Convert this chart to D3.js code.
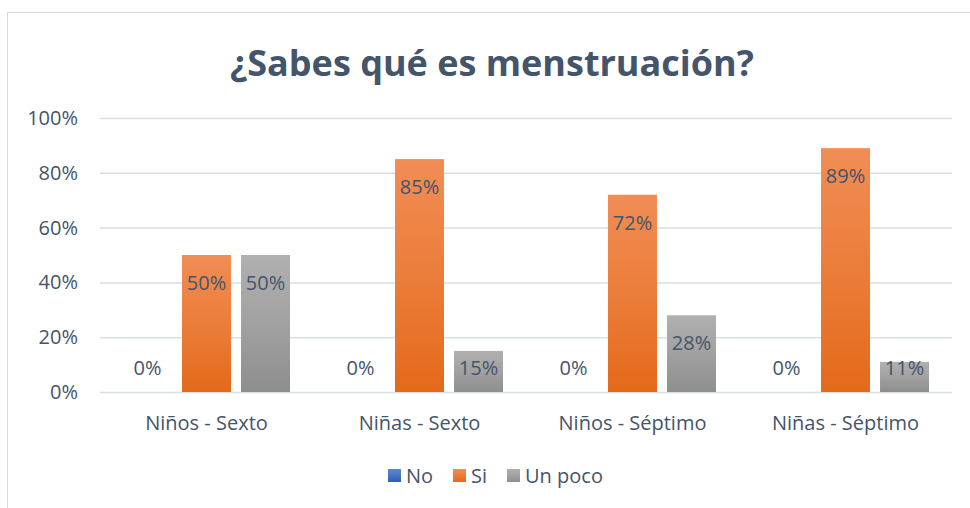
<!DOCTYPE html>
<html>
<head>
<meta charset="utf-8">
<script src="https://cdn.jsdelivr.net/npm/d3@7"></script>
<style>
  body { margin: 0; background: #fff; }
  text { font-family: "Open Sans", "Noto Sans", sans-serif; fill: #44546a; }
</style>
</head>
<body>
<svg id="chart"></svg>
<script>
const categories = ["Niños - Sexto", "Niñas - Sexto", "Niños - Séptimo", "Niñas - Séptimo"];
const seriesNames = ["No", "Si", "Un poco"];
const noValues = [0, 0, 0, 0];
const siValues = [50, 85, 72, 89];
const unPocoValues = [50, 15, 28, 11];
const yTicks = [0, 20, 40, 60, 80, 100];

const chartSize = { width: 970, height: 508 };
const margin = { left: 100, right: 18, top: 118, bottom: 116 };
const width = chartSize.width - margin.left - margin.right;
const height = chartSize.height - margin.top - margin.bottom;

const seriesValues = { "No": noValues, "Si": siValues, "Un poco": unPocoValues };
const rows = categories.map((name, i) => ({
  name,
  values: seriesNames.map(s => ({ series: s, value: seriesValues[s][i] }))
}));

const svg = d3.select("#chart")
  .attr("width", chartSize.width)
  .attr("height", chartSize.height);

// gradients like the Excel fills
const defs = svg.append("defs");
const grads = {
  "No": ["#5b87d0", "#2e5fb4"],
  "Si": ["#f18d55", "#e4691a"],
  "Un poco": ["#b0b0b0", "#8e8e8e"]
};
Object.entries(grads).forEach(([k, [top, bottom]], i) => {
  const g = defs.append("linearGradient")
    .attr("id", `grad${i}`)
    .attr("x1", 0).attr("y1", 0).attr("x2", 0).attr("y2", 1);
  g.append("stop").attr("offset", "0%").attr("stop-color", top);
  g.append("stop").attr("offset", "50%").attr("stop-color", d3.interpolateRgb(top, bottom)(0.45));
  g.append("stop").attr("offset", "100%").attr("stop-color", bottom);
});
const fill = s => `url(#grad${seriesNames.indexOf(s)})`;

// outer chart border
svg.append("rect")
  .attr("x", 7.5).attr("y", 12.5)
  .attr("width", 980).attr("height", 520)
  .attr("fill", "none")
  .attr("stroke", "#d9d9d9")
  .attr("stroke-width", 1);

svg.append("text")
  .attr("x", 492)
  .attr("y", 76)
  .attr("text-anchor", "middle")
  .style("font-size", "36px")
  .style("font-weight", "bold")
  .text("¿Sabes qué es menstruación?");

const g = svg.append("g")
  .attr("transform", `translate(${margin.left},${margin.top})`);

const y = d3.scaleLinear().domain([0, 100]).range([height, 0]);

const x0 = d3.scaleBand()
  .domain(categories)
  .range([0, width])
  .paddingInner(0.216)
  .paddingOuter(0.108);

const x1 = d3.scaleBand()
  .domain(seriesNames)
  .range([0, x0.bandwidth()])
  .paddingInner(0.17)
  .paddingOuter(0);

// gridlines
const yAxis = d3.axisLeft(y)
  .tickValues(yTicks)
  .tickSize(-width)
  .tickPadding(22)
  .tickFormat(d => `${d}%`);

g.append("g")
  .attr("class", "y-axis")
  .call(yAxis)
  .call(a => a.select(".domain").remove())
  .call(a => a.selectAll("line").attr("stroke", "#d9dee5").attr("stroke-width", 1.5))
  .call(a => a.selectAll("text").style("font-size", "20px").attr("fill", "#44546a"));

const groups = g.selectAll(".group")
  .data(rows)
  .enter()
  .append("g")
  .attr("class", "group")
  .attr("transform", d => `translate(${x0(d.name)},0)`);

groups.selectAll("rect")
  .data(d => d.values)
  .enter()
  .append("rect")
  .attr("x", d => x1(d.series))
  .attr("y", d => y(d.value))
  .attr("width", x1.bandwidth())
  .attr("height", d => y(0) - y(d.value))
  .attr("fill", d => fill(d.series));

groups.selectAll(".label")
  .data(d => d.values)
  .enter()
  .append("text")
  .attr("class", "label")
  .attr("x", d => x1(d.series) + x1.bandwidth() / 2)
  .attr("y", d => Math.min(y(d.value) + 28, y(0) - 24))
  .attr("dy", "0.35em")
  .attr("text-anchor", "middle")
  .style("font-size", "20px")
  .text(d => `${d.value}%`);

// x axis labels
const xAxis = d3.axisBottom(x0).tickSize(0).tickPadding(24);
g.append("g")
  .attr("class", "x-axis")
  .attr("transform", `translate(0,${height})`)
  .call(xAxis)
  .call(a => a.select(".domain").remove())
  .call(a => a.selectAll("text").style("font-size", "20px").attr("fill", "#44546a"));

// legend
const legendX = [388, 453, 507];
const legend = svg.append("g").attr("class", "legend");
seriesNames.forEach((s, i) => {
  legend.append("rect")
    .attr("x", legendX[i]).attr("y", 469)
    .attr("width", 13).attr("height", 13)
    .attr("fill", fill(s));
  legend.append("text")
    .attr("x", legendX[i] + 18).attr("y", 476)
    .attr("dy", "0.35em")
    .style("font-size", "20px")
    .text(s);
});
</script>
</body>
</html>
